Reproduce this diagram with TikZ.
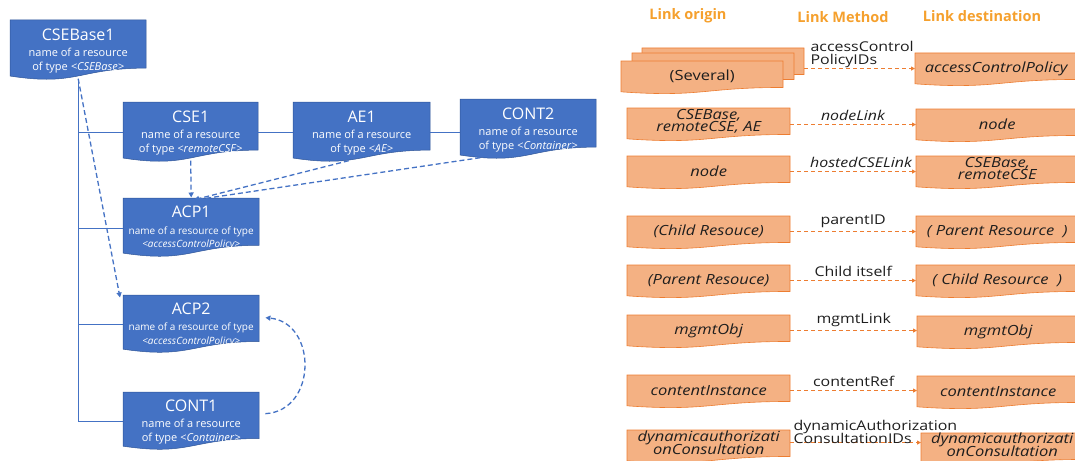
\documentclass[tikz,border=0pt]{standalone}
\usepackage{fontspec}
\setmainfont{Open Sans}
\newfontfamily\widefont{Open Sans}[FakeStretch=1.18]
\usetikzlibrary{arrows.meta}

\definecolor{boxblue}{RGB}{68,114,196}
\definecolor{edgeblue}{RGB}{47,85,151}
\definecolor{boxorange}{RGB}{244,177,131}
\definecolor{edgeorange}{RGB}{237,125,49}
\definecolor{headorange}{RGB}{245,160,45}
\definecolor{inktext}{RGB}{30,30,30}

% Document-style box: rectangle with a wavy bottom edge, plus a named node over it.
% [#1] extra node options, #2 colour prefix (blue/orange), #3 node name,
% #4 x, #5 top y, #6 width, #7 height, #8 text
\newcommand\docbox[8][]{%
  \pgfmathsetmacro\dbxr{#4+#6}%
  \pgfmathsetmacro\dbxm{#4+#6/2}%
  \pgfmathsetmacro\dbya{#5+0.802*#7}%
  \pgfmathsetmacro\dbyb{#5+1.108*#7}%
  \pgfmathsetmacro\dbyc{#5+0.934*#7}%
  \pgfmathsetmacro\dbh{0.93*#7}%
  \path[#2 shape] (#4,#5) -- (\dbxr,#5) -- (\dbxr,\dbya)
     .. controls (\dbxm,\dbya) and (\dbxm,\dbyb) .. (#4,\dbyc) -- cycle;
  \node[#2 text, inner sep=0pt, minimum width=#6pt, minimum height=\dbh pt,
        anchor=north west, #1] (#3) at (#4,#5) {#8};
}

\tikzset{
  blue shape/.style={fill=boxblue, draw=edgeblue, line width=0.5pt},
  blue text/.style={text=white, align=center, yshift=-2.5pt,
                    font=\fontsize{11}{13.5}\selectfont},
  orange shape/.style={fill=boxorange, draw=edgeorange, line width=0.6pt},
  orange text/.style={text=inktext, align=center,
                      font=\widefont\fontsize{14}{12.5}\selectfont\itshape},
  tree/.style={draw=boxblue, line width=1.2pt},
  bref/.style={draw=boxblue, line width=1.3pt, dash pattern=on 5pt off 3pt,
               -{Triangle[length=5pt,width=5pt]}},
  olink/.style={draw=edgeorange, line width=1pt, dash pattern=on 4pt off 3pt,
               -{Triangle[length=4pt,width=4pt]}},
  lbl/.style={text=inktext, font=\widefont\fontsize{13.5}{13}\selectfont, inner sep=1pt},
  head/.style={text=headorange, font=\fontsize{14.5}{16}\selectfont\bfseries},
}
\newcommand\ttlfont{\fontsize{16}{16}\selectfont}
\newcommand\acpfont{\fontsize{10}{12}\selectfont}

\begin{document}
% allow tightly packed text lines
\setlength{\lineskiplimit}{-20pt}
\begin{tikzpicture}[x=1pt,y=-1pt]
\useasboundingbox (0,0) rectangle (1075,460);
\clip (0,0) rectangle (1075,460);

% ---------- resource tree ----------
\docbox{blue}{base}{10}{20}{136}{60}{{\ttlfont CSEBase1}\\[3pt]name of a resource\\of type \textit{<CSEBase>}}
\docbox{blue}{cse1}{123}{102}{135}{60}{{\ttlfont CSE1}\\[3pt]name of a resource\\of type \textit{<remoteCSE>}}
\docbox{blue}{ae1}{293}{102}{137}{60}{{\ttlfont AE1}\\[3pt]name of a resource\\of type \textit{<AE>}}
\docbox{blue}{cont2}{460}{99}{136}{60}{{\ttlfont CONT2}\\[3pt]name of a resource\\of type \textit{<Container>}}
\docbox{blue}{acp1}{123}{198}{136}{59}{{\ttlfont ACP1}\\[3pt]{\acpfont name of a resource of type}\\{\acpfont\itshape <accessControlPolicy>}}
\docbox{blue}{acp2}{123}{295}{136}{58}{{\ttlfont ACP2}\\[3pt]{\acpfont name of a resource of type}\\{\acpfont\itshape <accessControlPolicy>}}
\docbox{blue}{cont1}{123}{392}{136}{58}{{\ttlfont CONT1}\\[3pt]name of a resource\\of type \textit{<Container>}}

% parent/child lines
\draw[tree] (base.south) -- (base.south |- cont1.west);
\draw[tree] (base.south |- cse1.west) -- (cse1.west);
\draw[tree] (base.south |- acp1.west) -- (acp1.west);
\draw[tree] (base.south |- acp2.west) -- (acp2.west);
\draw[tree] (base.south |- cont1.west) -- (cont1.west);
\draw[tree] (cse1.east) -- (ae1.west);
\draw[tree] (ae1.east) -- (ae1.east -| cont2.west);

% access control references
\draw[bref] (base.south) -- ([xshift=-3pt]acp2.north west);
\draw[bref, shorten >=3pt] (cse1.south) -- (acp1.north);
\draw[bref, shorten >=3pt] ([xshift=-13pt]ae1.south) -- (acp1.north);
\draw[bref, shorten >=3pt] ([xshift=-48pt]cont2.south) -- (acp1.north);
\draw[bref] ([shift={(6pt,8pt)}]cont1.east) .. controls +(52,-3) and +(52,5) .. ([shift={(6pt,7pt)}]acp2.east);

% ---------- link table ----------
\node[head] (h1) at (688,16) {Link origin};
\node[head] (h2) at (843,17) {Link Method};
\node[head] (h3) at (982,16) {Link destination};

% row 1: several origins
\docbox{orange}{s3}{642}{48}{162}{33}{}
\docbox{orange}{s2}{632}{53}{162}{33}{}
\docbox{orange}{s1}{621}{61}{162}{33}{\upshape (Several)}
\docbox{orange}{d1}{915}{53}{162}{33}{accessControlPolicy}
\draw[olink] (s3.east |- d1.west) coordinate (a1) -- (d1.west);
\node[lbl, align=left, anchor=south west] at ([xshift=5pt,yshift=0pt]a1) {accessControl\\PolicyIDs};

% rows 2--8
\docbox[yshift=2pt]{orange}{o2}{627}{108}{163}{33}{CSEBase,\\remoteCSE, AE}
\docbox{orange}{d2}{916}{109}{162}{33}{node}
\draw[olink] ([yshift=-3pt]o2.east) -- ([yshift=-3pt]o2.east -| d2.west) node[lbl, midway, above=2pt] {\textit{nodeLink}};

\docbox{orange}{o3}{627}{156}{163}{33}{node}
\docbox[yshift=3pt]{orange}{d3}{916}{156}{162}{33}{CSEBase,\\remoteCSE}
\draw[olink] (o3.east) -- (o3.east -| d3.west) node[lbl, midway, above=2pt, xshift=8pt] {\textit{hostedCSELink}};

\docbox{orange}{o4}{627}{216}{163}{33}{(Child Resouce)}
\docbox{orange}{d4}{916}{216}{162}{33}{(\ Parent Resource\ \ )}
\draw[olink] (o4.east) -- (o4.east -| d4.west) node[lbl, midway, above=2pt] {parentID};

\docbox{orange}{o5}{627}{265}{163}{33}{(Parent Resouce)}
\docbox{orange}{d5}{916}{265}{162}{33}{(\ Child Resource\ \ )}
\draw[olink] (o5.east) -- (o5.east -| d5.west) node[lbl, midway, above=2pt] {Child itself};

\docbox{orange}{o6}{627}{315}{163}{33}{mgmtObj}
\docbox{orange}{d6}{917}{316}{162}{33}{mgmtObj}
\draw[olink] (o6.east) -- (o6.east -| d6.west) node[lbl, midway, above=2pt] {mgmtLink};

\docbox{orange}{o7}{627}{375}{163}{33}{contentInstance}
\docbox{orange}{d7}{917}{376}{162}{33}{contentInstance}
\draw[olink] (o7.east) -- (o7.east -| d7.west) node[lbl, midway, above=2pt] {contentRef};

\docbox[yshift=3pt]{orange}{o8}{627}{430}{163}{33}{dynamicauthorizati\\onConsultation}
\docbox[yshift=4pt]{orange}{d8}{921}{433}{162}{33}{dynamicauthorizati\\onConsultation}
\draw[olink] (o8.east) coordinate (a8) -- (o8.east -| d8.west);
\node[lbl, align=left, anchor=south west] at ([xshift=2pt,yshift=-2pt]a8) {dynamicAuthorization\\ConsultationIDs};
\end{tikzpicture}
\end{document}
